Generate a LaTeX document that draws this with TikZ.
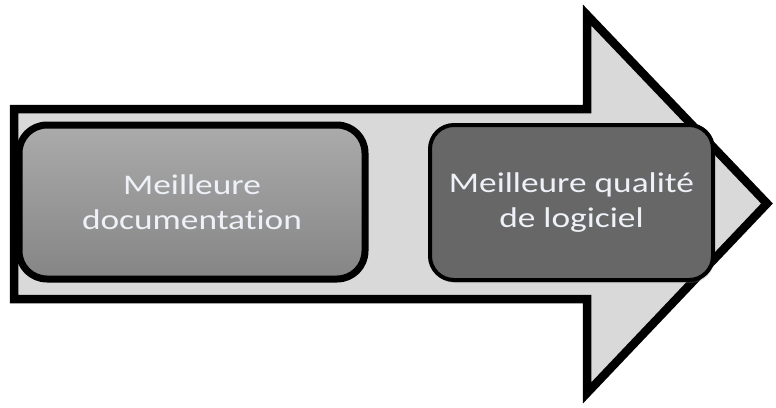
\documentclass[tikz,border=0pt]{standalone}
\usepackage{fontspec}
\setmainfont{Carlito}[FakeStretch=1.24, Ligatures=NoCommon]
\usetikzlibrary{shadows}

\definecolor{arrowgray}{HTML}{D9D9D9}
\definecolor{doctop}{HTML}{ABABAB}
\definecolor{docbottom}{HTML}{858585}
\definecolor{qualgray}{HTML}{676767}
\definecolor{labeltext}{HTML}{EEF2F8}

\tikzset{
  arrowbody/.style={fill=arrowgray, draw=black, line width=8.5pt, line join=miter,
    drop shadow={opacity=0.22, shadow xshift=2pt, shadow yshift=-3pt}},
  stepbox/.style={rectangle, draw=black, align=center, text=labeltext,
    font=\fontsize{28.5}{35.5}\selectfont, inner sep=0pt,
    drop shadow={opacity=0.3, shadow xshift=1.5pt, shadow yshift=-3pt}},
}

\begin{document}
\begin{tikzpicture}[x=1pt, y=-1pt]
  \useasboundingbox (0,0) rectangle (776,407);

  % big block arrow behind the two steps
  \draw[arrowbody] (14,109) -- (587,109) -- (587,15) -- (767,203.5)
    -- (587,393) -- (587,299) -- (14,299) -- cycle;

  % the two steps
  \node[stepbox, top color=doctop, bottom color=docbottom,
        minimum width=346pt, minimum height=154pt,
        line width=7pt, rounded corners=28pt]
    (doc) at (192,202) {Meilleure\\documentation};
  \node[stepbox, fill=qualgray,
        minimum width=283pt, minimum height=155pt,
        line width=4pt, rounded corners=24pt]
    (qual) at (571.5,202.5) {Meilleure qualité\\de logiciel};
\end{tikzpicture}
\end{document}
